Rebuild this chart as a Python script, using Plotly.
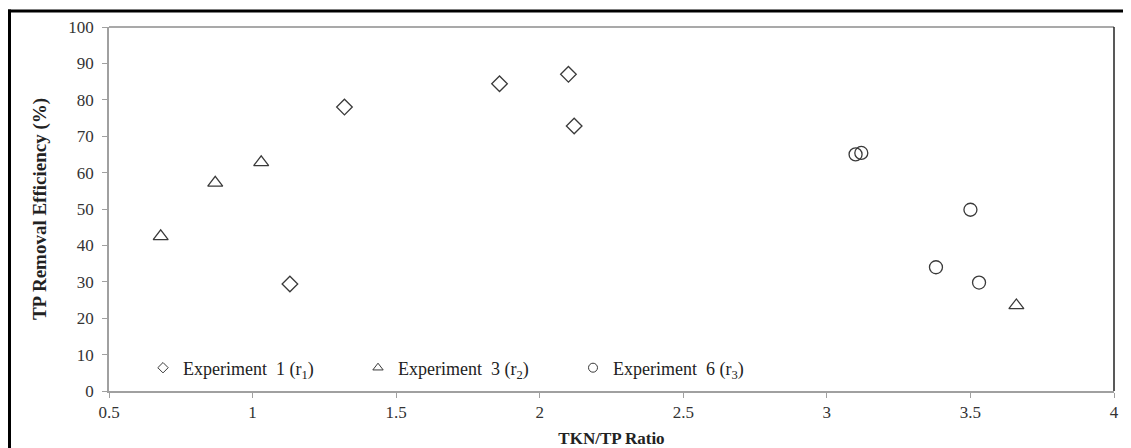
import plotly.graph_objects as go

# Data
exp1_x = [1.13, 1.32, 1.86, 2.10, 2.12]
exp1_y = [29.4, 78.0, 84.4, 87.0, 72.8]
exp3_x = [0.68, 0.87, 1.03, 3.66]
exp3_y = [42.5, 57.2, 62.8, 23.5]
exp6_x = [3.10, 3.12, 3.50, 3.38, 3.53]
exp6_y = [65.0, 65.4, 49.8, 34.0, 29.8]

names = ["Experiment\u00a0\u00a01 (r<sub>1</sub>)",
         "Experiment\u00a0\u00a03 (r<sub>2</sub>)",
         "Experiment\u00a0\u00a06 (r<sub>3</sub>)"]

x_ticks = [0.5, 1, 1.5, 2, 2.5, 3, 3.5, 4]
x_tick_labels = ["0.5", "1", "1.5", "2", "2.5", "3", "3.5", "4"]
y_ticks = list(range(0, 101, 10))

# page body has an 8px margin, so the figure is placed at (8, 8) in the window
OFF = 8
W, H = 1131 - OFF, 448 - OFF
L, R, T, B = 109 - OFF, 17, 27 - OFF, 57
pw, ph = W - L - R, H - T - B

mc = "#3a3a3a"
serif = "Liberation Serif"

fig = go.Figure()
series = [
    (exp1_x, exp1_y, "diamond-open", 12, 8),
    (exp3_x, exp3_y, "triangle-up-open", 13, 9),
    (exp6_x, exp6_y, "circle-open", 13, 9),
]
for (xs, ys, sym, sz, lsz), nm in zip(series, names):
    fig.add_trace(go.Scatter(
        x=xs, y=ys, mode="markers", showlegend=False, name=nm,
        marker=dict(symbol=sym, size=sz, color=mc, line=dict(color=mc, width=1.3)),
    ))
    fig.add_trace(go.Scatter(
        x=[None], y=[None], mode="markers", name=nm, showlegend=True,
        marker=dict(symbol=sym, size=lsz, color=mc, line=dict(color=mc, width=1)),
    ))

def px2x(px):
    return (px - OFF - L) / pw

def py2y(py):
    return (H - B - (py - OFF)) / ph

shapes = [
    # plot area top and right borders
    dict(type="line", xref="paper", yref="paper", x0=0, x1=1, y0=1, y1=1,
         line=dict(color="#555555", width=1.2)),
    dict(type="line", xref="paper", yref="paper", x0=1, x1=1, y0=0, y1=1,
         line=dict(color="#222222", width=1.5)),
    # outer frame (top and left)
    dict(type="line", xref="paper", yref="paper", x0=px2x(7), x1=px2x(1140),
         y0=py2y(11), y1=py2y(11), line=dict(color="black", width=3)),
    dict(type="line", xref="paper", yref="paper", x0=px2x(9.5), x1=px2x(9.5),
         y0=py2y(9.5), y1=py2y(460), line=dict(color="black", width=3)),
]

fig.update_layout(
    width=W, height=H,
    margin=dict(l=L, r=R, t=T, b=B, autoexpand=False),
    paper_bgcolor="white", plot_bgcolor="white",
    font=dict(family=serif, size=17, color="#222222"),
    showlegend=True,
    legend=dict(
        orientation="h", x=px2x(143), y=py2y(368), xanchor="left", yanchor="middle",
        entrywidth=170, entrywidthmode="pixels", itemwidth=30,
        bgcolor="rgba(0,0,0,0)", font=dict(family=serif, size=18, color="#222222"),
        tracegroupgap=0,
    ),
    xaxis=dict(
        range=[0.5, 4], tickvals=x_ticks, ticktext=x_tick_labels,
        showgrid=False, zeroline=False, showline=True, linecolor="#a0a0a0", linewidth=1.5,
        ticks="outside", ticklen=5, tickcolor="#a0a0a0", tickwidth=1,
        tickfont=dict(family=serif, size=17, color="#333333"),
        title=dict(text="<b>TKN/TP Ratio</b>", font=dict(family=serif, size=17, color="#222222"),
                   standoff=12),
    ),
    yaxis=dict(
        range=[0, 100], tickvals=y_ticks,
        showgrid=False, zeroline=False, showline=True, linecolor="#a0a0a0", linewidth=1.5,
        ticks="outside", ticklen=5, tickcolor="#a0a0a0", tickwidth=1,
        ticklabelstandoff=5,
        tickfont=dict(family=serif, size=17, color="#333333"),
        title=dict(text="<b>TP Removal Efficiency (%)</b>",
                   font=dict(family=serif, size=19, color="#222222"), standoff=17),
    ),
    shapes=shapes,
)

fig.write_html("out.html")
